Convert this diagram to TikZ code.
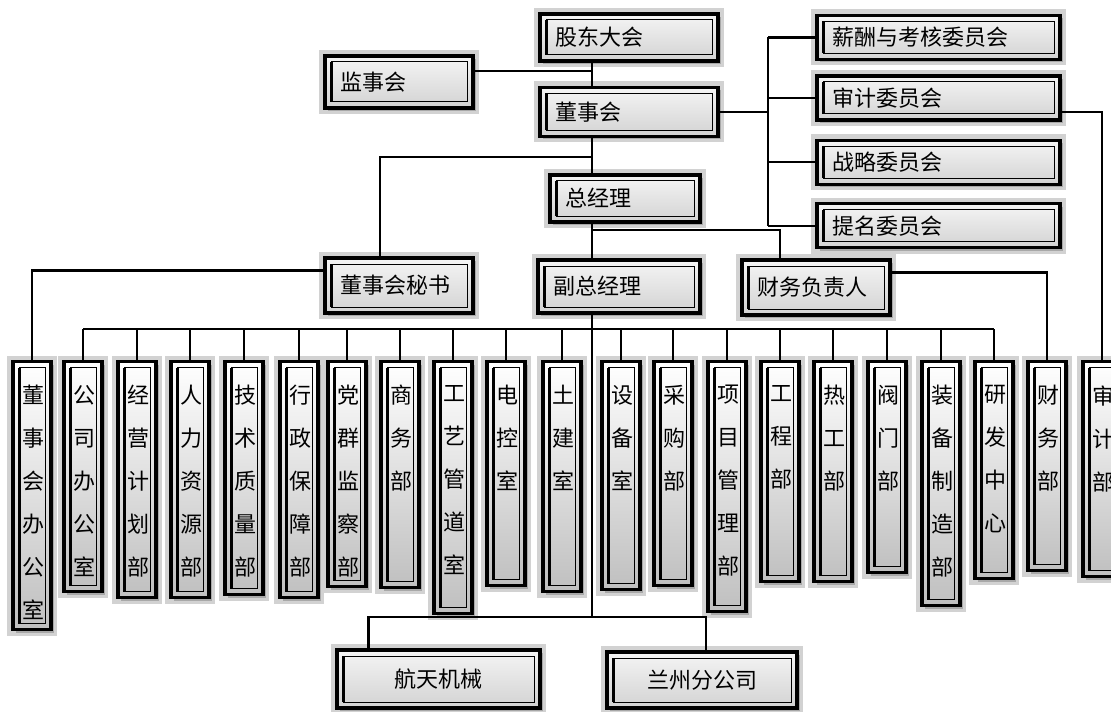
\documentclass[tikz,border=0pt]{standalone}
\usepackage{fontspec}
\setmainfont{Noto Sans CJK SC}
\usepackage{tikz}
\usetikzlibrary{positioning,shadows}
\tikzset{
  box/.style={draw, line width=1.7pt, top color=gray!8, bottom color=gray!35,
    preaction={draw=gray!35, line width=6pt},
    drop shadow={opacity=0.5, shadow xshift=1.5pt, shadow yshift=-1.5pt},
    path picture={
      \draw[line width=0.5pt] ([shift={(3pt,-3pt)}]path picture bounding box.north west) rectangle ([shift={(-3pt,3pt)}]path picture bounding box.south east);
      \draw[line width=1.6pt] ([shift={(3.4pt,-3pt)}]path picture bounding box.north west) -- ([shift={(3.4pt,3pt)}]path picture bounding box.south west);
    }},
  hbox/.style={box, align=left, inner xsep=7.5pt, inner ysep=2pt, font=\fontsize{11}{13}\selectfont},
  cbox/.style={box, align=center, font=\fontsize{11}{13}\selectfont},
  vbox/.style={box, top color=white, bottom color=gray!50, minimum width=19pt, anchor=north},
  vtxt/.style={align=center, inner sep=0pt, anchor=north, font=\fontsize{11}{21.5}\selectfont},
  link/.style={line width=1.1pt},
}
\begin{document}
\begin{tikzpicture}[x=0.5pt, y=-0.5pt]
\useasboundingbox (0,0) rectangle (1111,711);
\coordinate (trunk) at (592,0);
\coordinate (cb) at (768,0);
\coordinate (bus) at (0,329);
\coordinate (jn) at (592,71);
\coordinate (k1) at (592,157);
\coordinate (k2) at (592,230);
\coordinate (k3) at (592,617);
\node[hbox, text width=74pt, minimum height=23.5pt] (gd) at (629,37.5) {股东大会};
\node[hbox, text width=74pt, minimum height=24.5pt, below=11.5pt of gd] (dsh) {董事会};
\node[hbox, text width=59pt, minimum height=26pt] (jsh) at (399,82) {监事会};
\node[hbox, text width=106.5pt, minimum height=22pt] (xc) at (938.5,37.5) {薪酬与考核委员会};
\node[hbox, text width=106.5pt, minimum height=22pt, below=6.5pt of xc] (sj) {审计委员会};
\node[hbox, text width=106.5pt, minimum height=22pt, below=8.5pt of sj] (zl) {战略委员会};
\node[hbox, text width=106.5pt, minimum height=22pt, below=8pt of zl] (tm) {提名委员会};
\node[hbox, text width=60pt, minimum height=23.5pt] (zjl) at (625,198.5) {总经理};
\node[hbox, text width=59pt, minimum height=27.5pt] (ms) at (399,285.5) {董事会秘书};
\node[hbox, text width=66pt, minimum height=26.5pt] (fzjl) at (619,286.5) {副总经理};
\node[hbox, text width=59pt, minimum height=27.5pt] (cw) at (816,287.5) {财务负责人};
\node[cbox, minimum width=101.5pt, minimum height=29pt] (ht) at (438.5,679) {航天机械};
\node[cbox, minimum width=95pt, minimum height=28pt] (lz) at (702,680) {兰州分公司};
\foreach \i/\x/\b/\t in {
  1/32/628/{董\\事\\会\\办\\公\\室},
  2/83/590/{公\\司\\办\\公\\室},
  3/137/596/{经\\营\\计\\划\\部},
  4/190/596/{人\\力\\资\\源\\部},
  5/244/593/{技\\术\\质\\量\\部},
  6/299/596/{行\\政\\保\\障\\部},
  7/347/585/{党\\群\\监\\察\\部},
  8/400/586/{商\\务\\部},
  9/453/612/{工\\艺\\管\\道\\室},
  10/506/584/{电\\控\\室},
  11/562/590/{土\\建\\室},
  12/621/588/{设\\备\\室},
  13/673/584/{采\\购\\部},
  14/727/610/{项\\目\\管\\理\\部},
  15/780/580/{工\\程\\部},
  16/833/580/{热\\工\\部},
  17/887/571/{阀\\门\\部},
  18/941/604/{装\\备\\制\\造\\部},
  19/994/577/{研\\发\\中\\心},
  20/1047/569/{财\\务\\部},
  21/1102/575/{审\\计\\部}}{
  \pgfmathsetmacro\h{(\b-360)/2}
  \node[vbox, minimum height=\h pt] (d\i) at (\x,360) {};
  \node[vtxt] (t\i) at ([xshift=0.8pt, yshift=-12.5pt]d\i.north) {\t};
}
\draw[link] (gd.south -| trunk) -- (dsh.north -| trunk);
\draw[link] (jn -| jsh.east) -- (jn);
\draw[link] (dsh.south -| trunk) -- (zjl.north -| trunk);
\draw[link] (k1) -| ([xshift=-9.5pt]ms.north);
\draw[link] (dsh.east) -- (dsh.east -| cb);
\draw[link] (xc.west -| cb) -- (tm.west -| cb);
\foreach \c in {xc,sj,zl,tm} \draw[link] (\c.west -| cb) -- (\c.west);
\draw[link] (sj.east |- dsh.east) -| (d21.north);
\draw[link] (zjl.south -| trunk) -- (fzjl.north -| trunk);
\draw[link] (k2) -| ([xshift=-18pt]cw.north);
\draw[link] ([yshift=7.5pt]ms.west) -| (d1.north);
\draw[link] ([yshift=7.5pt]cw.east) -| (d20.north);
\draw[link] (d2.north |- bus) -- (d19.north |- bus);
\foreach \i in {2,...,19} \draw[link] (d\i.north |- bus) -- (d\i.north);
\draw[link] (fzjl.south -| trunk) -- (k3);
\draw[link] ([xshift=-35pt]ht.north) |- (k3) -| ([xshift=2pt]lz.north);
\end{tikzpicture}
\end{document}
